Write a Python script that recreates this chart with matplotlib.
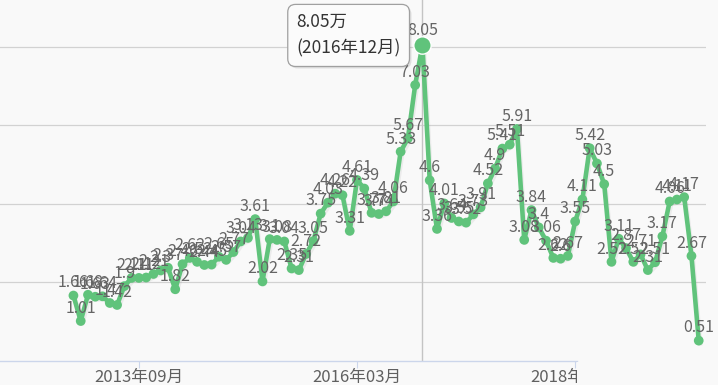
import matplotlib
matplotlib.use('Agg')
import matplotlib.pyplot as plt
import matplotlib.patheffects as pe
from matplotlib.patches import Rectangle
import numpy as np

plt.rcParams['font.family'] = ['Noto Sans CJK SC', 'DejaVu Sans']

# ---- data ----
start_year, start_month = 2012, 12
values = [1.66, 1.01, 1.68, 1.63, 1.64, 1.47, 1.42, 1.9, 2.11, 2.11,
          2.12, 2.21, 2.3, 2.37, 1.82, 2.46, 2.62, 2.52, 2.44, 2.45,
          2.65, 2.57, 2.77, 3.04, 3.13, 3.61, 2.02, 3.1, 3.08, 3.04,
          2.35, 2.31, 2.72, 3.05, 3.75, 4.03, 4.26, 4.22, 3.31, 4.61,
          4.39, 3.77, 3.74, 3.81, 4.06, 5.33, 5.67, 7.03, 8.05, 4.6,
          3.36, 4.01, 3.64, 3.55, 3.52, 3.73, 3.91, 4.52, 4.9, 5.41,
          5.51, 5.91, 3.08, 3.84, 3.4, 3.06, 2.62, 2.6, 2.67, 3.55,
          4.11, 5.42, 5.03, 4.5, 2.52, 3.11, 2.87, 2.52, 2.71, 2.31,
          2.51, 3.17, 4.06, 4.11, 4.17, 2.67, 0.51]
tick_months = ['2013-09', '2016-03', '2018-09']
tick_labels = ['2013年09月', '2016年03月', '2018年09月']
highlight_month = '2016-12'
tooltip_unit = '万'
tooltip_period = '(2016年12月)'
grid_values = [2, 4, 6, 8]


def month_index(s):
    y, m = map(int, s.split('-'))
    return (y - start_year) * 12 + (m - start_month)


bg = '#f9f9f9'
green = '#60c37b'
W, H = 718, 385
axis_px = 361  # pixel row of the x axis line

x = np.arange(len(values))
fig = plt.figure(figsize=(W / 100, H / 100), dpi=100)
fig.patch.set_facecolor(bg)
ax = fig.add_axes([0, (H - axis_px) / H, 706 / W, axis_px / H])
ax.set_facecolor(bg)
ax.set_xlim(-10.1, 87.0)
ax.set_ylim(-0.01, 9.2)

# grid
ax.set_yticks(grid_values)
ax.yaxis.grid(True, color='#d2d2d2', lw=0.9)
ax.tick_params(axis='y', left=False, labelleft=False)
for s in ['left', 'right', 'top']:
    ax.spines[s].set_visible(False)
ax.spines['bottom'].set_color('#ccd6eb')
ax.spines['bottom'].set_linewidth(1.0)
ax.spines['bottom'].set_bounds(-10.1, 69.2)
ax.set_axisbelow(True)

ax.set_xticks([month_index(m) for m in tick_months])
ax.set_xticklabels(tick_labels, fontsize=12, color='#606060')
ax.tick_params(axis='x', direction='out', length=5, color='#ccd6eb', pad=0.5)

hi = month_index(highlight_month)
# crosshair
ax.axvline(hi, color='#c4c4c4', lw=1.0, zorder=1)

# line
ax.plot(x, values, color=green, lw=3.3, marker='o', markersize=7,
        markeredgewidth=0, solid_joinstyle='round', zorder=3,
        path_effects=[pe.SimpleLineShadow(offset=(1, -2), shadow_color='#888888', alpha=0.12),
                      pe.Normal()])
ax.plot([hi], [values[hi]], marker='o', markersize=12.5, color=green,
        markeredgecolor='white', markeredgewidth=1.0, zorder=4)

# data labels
for i, v in enumerate(values):
    off = 4.5 if i == hi else 3
    ax.annotate(f'{v:g}', (i, v), xytext=(0, off), textcoords='offset points',
                ha='center', va='bottom', fontsize=11.5, color='#656565', zorder=5)

# tooltip
tip = f'{values[hi]:g}{tooltip_unit}\n{tooltip_period}'
common = dict(textcoords='offset pixels', ha='left', va='top', fontsize=12.5, linespacing=1.6)
ax.annotate(tip, (hi, values[hi]), xytext=(-124, 30), color='none',
            bbox=dict(boxstyle='round,pad=0.5,rounding_size=0.45', fc='#000000', ec='none', alpha=0.10),
            zorder=6, **common)
ax.annotate(tip, (hi, values[hi]), xytext=(-126, 32), color='#333333',
            bbox=dict(boxstyle='round,pad=0.5,rounding_size=0.45', fc='#fbfbfb', ec='#a0a0a0', lw=0.9),
            zorder=7, **common)

# fade at the right end of the axis (scroll region)
fig.patches.append(Rectangle((577 / W, 0), (W - 577) / W, (H - axis_px - 1) / H,
                             transform=fig.transFigure, fc=bg, ec='none', zorder=10))

fig.savefig('out.png', dpi=100, facecolor=bg)
